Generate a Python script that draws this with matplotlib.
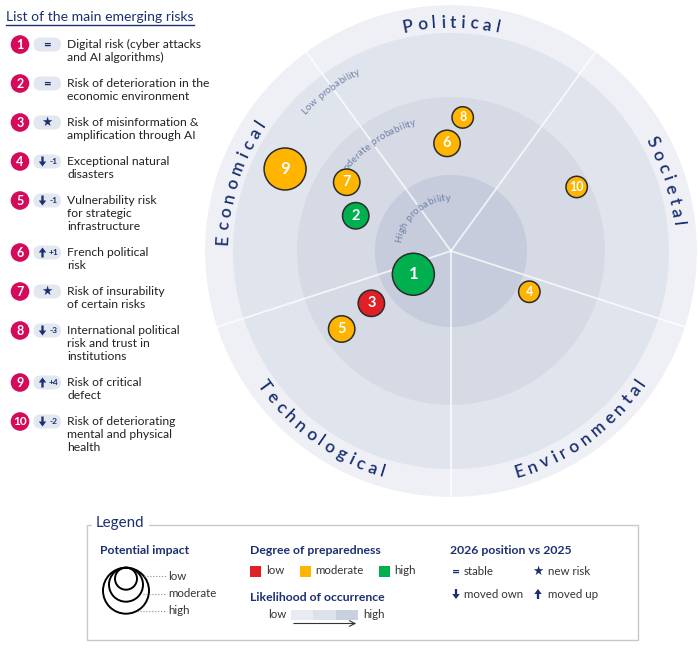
import numpy as np
import matplotlib
matplotlib.use('Agg')
import matplotlib.pyplot as plt
from matplotlib.patches import Circle, Rectangle, FancyBboxPatch, FancyArrow
from matplotlib.font_manager import FontProperties
from matplotlib.textpath import TextToPath

plt.rcParams['font.family'] = ['Lato', 'DejaVu Sans']

# ---- data ----
risk_ids = [1, 2, 3, 4, 5, 6, 7, 8, 9, 10]
risk_labels = [
    "Digital risk (cyber attacks\nand AI algorithms)",
    "Risk of deterioration in the\neconomic environment",
    "Risk of misinformation &\namplification through AI",
    "Exceptional natural\ndisasters",
    "Vulnerability risk\nfor strategic\ninfrastructure",
    "French political\nrisk",
    "Risk of insurability\nof certain risks",
    "International political\nrisk and trust in\ninstitutions",
    "Risk of critical\ndefect",
    "Risk of deteriorating\nmental and physical\nhealth",
]
risk_trend = ['stable', 'stable', 'new', 'down', 'down', 'up', 'new', 'down', 'up', 'down']
risk_change = ['', '', '', '-1', '-1', '+1', '', '-3', '+4', '-2']
# polar position on the radar: angle in degrees, distance (1 = edge of low probability zone)
risk_angle = [211.7, 159.7, 213.3, 332.5, 215.5, 92.1, 146.6, 85.0, 153.7, 27.0]
risk_dist = [0.203, 0.466, 0.437, 0.405, 0.616, 0.494, 0.573, 0.615, 0.849, 0.647]
risk_impact = ['high', 'moderate', 'moderate', 'low', 'moderate', 'moderate', 'moderate', 'low', 'high', 'low']
risk_prep = ['high', 'high', 'low', 'moderate', 'moderate', 'moderate', 'moderate', 'moderate', 'moderate', 'moderate']

categories = ['Political', 'Societal', 'Environmental', 'Technological', 'Economical']
category_mid = [90, 18, 306, 234, 162]
zone_names = ['Low probability', 'Moderate probability', 'High probability']
zone_radius = [1.0, 0.706, 0.349]

# ---- styles ----
NAVY = '#1b3070'
CRIMSON = '#d40b5b'
TXT = '#222222'
PREP_COLORS = {'low': '#e01f26', 'moderate': '#ffb400', 'high': '#00b04f'}
IMPACT_PX = {'low': 10.7, 'moderate': 13.2, 'high': 21.0}
NUM_SIZE = {'low': 9, 'moderate': 10.5, 'high': 12}
ZONE_COLORS = ['#e0e4ec', '#d5dae4', '#c6ccdb']
RING_COLOR = '#eef0f5'
RING_OUT = 1.128
PX = 218.0  # pixels per radar unit
CX, CY = 451, 251

fig = plt.figure(figsize=(6.99, 6.48), dpi=100)
ax0 = fig.add_axes([0, 0, 1, 1])
ax0.set_xlim(0, 699)
ax0.set_ylim(648, 0)
ax0.axis('off')

half = 262
ax = fig.add_axes([(CX - half) / 699, (648 - CY - half) / 648, 2 * half / 699, 2 * half / 648])
lim = half / PX
ax.set_xlim(-lim, lim)
ax.set_ylim(-lim, lim)
ax.axis('off')

ttp = TextToPath()


def curved_text(ax, text, mid_deg, radius, size, color, track_px, clockwise, weight='normal'):
    fp = FontProperties(family='Lato', size=size, weight=weight)
    widths = []
    for ch in text:
        if ch == ' ':
            w = 0.26 * size
        else:
            w, _, _ = ttp.get_text_width_height_descent(ch, fp, ismath=False)
        widths.append(w * 100 / 72 / PX)
    track = track_px / PX
    total = sum(widths) + track * (len(text) - 1)
    span = total / radius
    mid = np.radians(mid_deg)
    theta = mid + span / 2 if clockwise else mid - span / 2
    sgn = -1 if clockwise else 1
    for ch, w in zip(text, widths):
        tc = theta + sgn * (w / 2) / radius
        rot = np.degrees(tc) - 90 if clockwise else np.degrees(tc) + 90
        ax.text(radius * np.cos(tc), radius * np.sin(tc), ch, fontsize=size, color=color,
                fontweight=weight, family='Lato', rotation=rot, rotation_mode='anchor',
                ha='center', va='baseline')
        theta += sgn * (w + track) / radius


def trend_arrow(ax, x, y, up):
    d = -1 if up else 1
    ax.add_patch(FancyArrow(x, y - 5 * d, 0, 10 * d, width=2.3, head_width=7.5, head_length=5,
                            length_includes_head=True, color=NAVY, lw=0))


# ---- radar background ----
ax.add_patch(Circle((0, 0), RING_OUT, color=RING_COLOR, lw=0))
for r, c in zip(zone_radius, ZONE_COLORS):
    ax.add_patch(Circle((0, 0), r, color=c, lw=0))
for mid in category_mid:
    a = np.radians(mid + 36)
    ax.plot([0, RING_OUT * np.cos(a)], [0, RING_OUT * np.sin(a)], color='white', lw=1.3, alpha=0.75)

for name, mid in zip(categories, category_mid):
    top = np.sin(np.radians(mid)) > -0.3
    r = 1.025 if top else 1.083
    curved_text(ax, name, mid, r, 12.5, NAVY, 4.4, clockwise=top, weight='semibold')

zone_label_pos = {'Low probability': (127, 0.915), 'Moderate probability': (126, 0.60),
                  'High probability': (131, 0.232)}
for name in zone_names:
    a, r = zone_label_pos[name]
    curved_text(ax, name, a, r, 6.8, '#6d7fa8', 0.3, clockwise=True)

# ---- bubbles ----
xs = np.array(risk_dist) * np.cos(np.radians(risk_angle))
ys = np.array(risk_dist) * np.sin(np.radians(risk_angle))
sizes = [(2 * IMPACT_PX[i] * 72 / 100) ** 2 for i in risk_impact]
colors = [PREP_COLORS[p] for p in risk_prep]
ax.scatter(xs, ys, s=sizes, c=colors, edgecolors='#2b2b2b', linewidths=1.1, zorder=5)
for x, y, n, imp in zip(xs, ys, risk_ids, risk_impact):
    ax.text(x, y, str(n), color='white', fontsize=NUM_SIZE[imp], fontweight='bold',
            ha='center', va='center', zorder=6)

# ---- list of risks ----
ax0.text(6, 17, 'List of the main emerging risks', fontsize=10.1, color=NAVY, va='center')
ax0.plot([6, 194], [25, 25], color=NAVY, lw=1)

y = 44.5
step = 13
for n, lab, tr, ch in zip(risk_ids, risk_labels, risk_trend, risk_change):
    ax0.add_patch(Circle((20, y), 9.3, color=CRIMSON, lw=0))
    ax0.text(20, y + 0.3, str(n), color='white', fontsize=9 if n < 10 else 8.5,
             fontweight='bold', ha='center', va='center')
    ax0.add_patch(FancyBboxPatch((33.5, y - 7), 27.5, 14, boxstyle='round,pad=0,rounding_size=7',
                                 color='#e3e7ef', lw=0))
    if tr == 'stable':
        ax0.text(47.2, y, '=', color=NAVY, fontsize=9.5, fontweight='bold', ha='center', va='center')
    elif tr == 'new':
        ax0.text(47.2, y, '★', color=NAVY, fontsize=9, ha='center', va='center', family='DejaVu Sans')
    else:
        trend_arrow(ax0, 42.5, y, tr == 'up')
        ax0.text(53.5, y, ch, color=NAVY, fontsize=6, fontweight='bold', ha='center', va='center')
    lines = lab.split('\n')
    for k, line in enumerate(lines):
        ax0.text(67, y + k * step, line, fontsize=8.7, color=TXT, va='center')
    y += step * (len(lines) + 1)

# ---- legend ----
ax0.add_patch(Rectangle((86.5, 525), 551.5, 115, fill=False, ec='#c9c9c9', lw=1))
ax0.text(96, 523.5, 'Legend', fontsize=10.9, color=NAVY, va='center',
         bbox=dict(facecolor='white', edgecolor='none', pad=3))

HS = 8.8
LS = 8.3
ax0.text(100, 551, 'Potential impact', fontsize=HS, color=NAVY, fontweight='bold', va='center')
top_y = 567.7
for r in [23, 17, 11]:
    ax0.add_patch(Circle((126, top_y + r), r, fill=False, ec='black', lw=1.4))
for lab, yy, x0 in zip(['low', 'moderate', 'high'], [576, 593.5, 611], [141, 143, 137]):
    ax0.plot([x0, 166], [yy, yy], color='#8a8a8a', lw=0.8, ls=':')
    ax0.text(168, yy, lab, fontsize=LS, color='#333333', va='center')

ax0.text(250, 551, 'Degree of preparedness', fontsize=HS, color=NAVY, fontweight='bold', va='center')
for lab, x in zip(['low', 'moderate', 'high'], [250, 299.5, 378.5]):
    ax0.add_patch(Rectangle((x, 565.5), 11, 11, color=PREP_COLORS[lab], lw=0))
    ax0.text(x + 16, 571, lab, fontsize=LS, color='#333333', va='center')

ax0.text(250, 597.5, 'Likelihood of occurrence', fontsize=HS, color=NAVY, fontweight='bold', va='center')
ax0.text(268, 615, 'low', fontsize=LS, color='#333333', va='center')
for k, c in enumerate(['#e8ebf1', '#dce1ea', '#c9d0de']):
    ax0.add_patch(Rectangle((291 + k * 22.4, 610), 22.4, 10, color=c, lw=0))
ax0.annotate('', xy=(359, 623.5), xytext=(291, 623.5),
             arrowprops=dict(arrowstyle='->', color='#333333', lw=0.8))
ax0.text(363, 615, 'high', fontsize=LS, color='#333333', va='center')

ax0.text(450, 551, '2026 position vs 2025', fontsize=HS, color=NAVY, fontweight='bold', va='center')
ax0.text(456, 571.5, '=', fontsize=10, color=NAVY, fontweight='bold', ha='center', va='center')
ax0.text(464, 571.5, 'stable', fontsize=LS, color='#333333', va='center')
ax0.text(538, 571.5, '★', fontsize=9, color=NAVY, ha='center', va='center', family='DejaVu Sans')
ax0.text(548, 571.5, 'new risk', fontsize=LS, color='#333333', va='center')
trend_arrow(ax0, 456, 594, False)
ax0.text(464, 594, 'moved own', fontsize=LS, color='#333333', va='center')
trend_arrow(ax0, 538, 594, True)
ax0.text(548, 594, 'moved up', fontsize=LS, color='#333333', va='center')

fig.savefig('out.png', dpi=100)
